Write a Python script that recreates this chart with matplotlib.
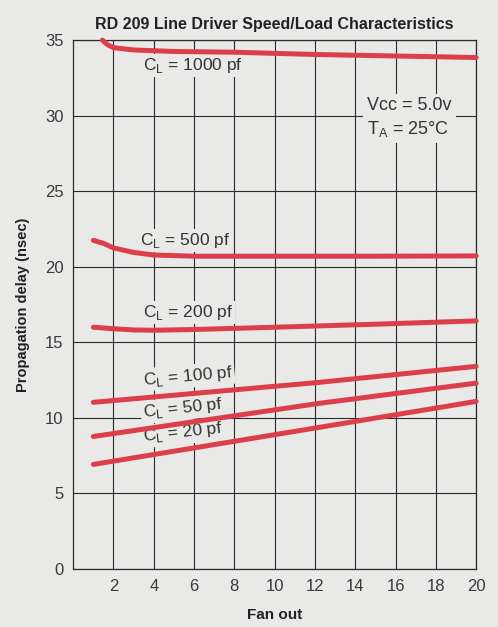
import matplotlib

matplotlib.use("Agg")
import matplotlib.pyplot as plt

# fan out values and propagation delay (nsec)
fan_1000 = [1.45, 1.7, 2.0, 3.0, 5.0, 8.0, 12.0, 16.0, 20.0]
delay_1000 = [35.0, 34.7, 34.5, 34.35, 34.25, 34.2, 34.05, 33.95, 33.85]

fan_500 = [1.0, 1.5, 2.0, 3.0, 4.0, 6.0, 10.0, 15.0, 20.0]
delay_500 = [21.75, 21.55, 21.25, 20.95, 20.78, 20.7, 20.7, 20.7, 20.72]

fan_200 = [1.0, 2.0, 3.0, 4.0, 6.0, 10.0, 15.0, 20.0]
delay_200 = [16.0, 15.9, 15.82, 15.8, 15.85, 16.0, 16.2, 16.42]

fan_100 = [1.0, 12.2, 20.0]
delay_100 = [11.03, 12.35, 13.41]

fan_50 = [1.0, 12.2, 20.0]
delay_50 = [8.77, 10.96, 12.3]

fan_20 = [1.0, 12.2, 20.0]
delay_20 = [6.92, 9.37, 11.09]

curves = [
    (fan_1000, delay_1000),
    (fan_500, delay_500),
    (fan_200, delay_200),
    (fan_100, delay_100),
    (fan_50, delay_50),
    (fan_20, delay_20),
]

# label text, x, y, rotation
labels = [
    ("1000", 3.45, 33.3, 0),
    ("500", 3.3, 21.75, 0),
    ("200", 3.45, 17.0, 0),
    ("100", 3.45, 12.5, 5),
    ("50", 3.45, 10.35, 6),
    ("20", 3.45, 8.75, 6),
]

x_ticks = [2, 4, 6, 8, 10, 12, 14, 16, 18, 20]
y_ticks = [0, 5, 10, 15, 20, 25, 30, 35]

paper = "#e9e9e7"
red = "#dd3f4a"
ink = "#2b2b2b"

plt.rcParams["font.family"] = ["Liberation Sans", "DejaVu Sans"]

fig = plt.figure(figsize=(4.98, 6.27), dpi=100, facecolor=paper)
ax = fig.add_axes([0.147, 0.0925, 0.809, 0.8435])
ax.set_facecolor(paper)

ax.set_xlim(0, 20)
ax.set_ylim(0, 35)
ax.set_xticks(x_ticks)
ax.set_yticks(y_ticks)
ax.tick_params(length=0, labelsize=12, labelcolor="#3a3a3a", pad=7)
ax.grid(True, color=ink, linewidth=0.8)
ax.set_axisbelow(True)
for spine in ax.spines.values():
    spine.set_color(ink)
    spine.set_linewidth(0.9)

# curves sit above the label boxes so the boxes only break the grid
for xs, ys in curves:
    ax.plot(xs, ys, color=red, linewidth=3.6, solid_capstyle="round", zorder=5, clip_on=False)

box = dict(facecolor=paper, edgecolor="none", pad=1.5)
for cap, lx, ly, rot in labels:
    ax.text(lx, ly, r"C$_\mathregular{L}$ = " + cap + " pf", fontsize=12.5, color="#333333",
            ha="left", va="center", rotation=rot, rotation_mode="anchor", bbox=box, zorder=4)

ax.text(14.6, 29.85, "Vcc = 5.0v\n" + r"T$_\mathregular{A}$ = 25°C", fontsize=13, color="#333333",
        ha="left", va="center", linespacing=1.35, bbox=dict(facecolor=paper, edgecolor="none", pad=3), zorder=4)

ax.set_xlabel("Fan out", fontsize=11, fontweight="bold", color="#222222", labelpad=10)
ax.set_ylabel("Propagation delay (nsec)", fontsize=10.5, fontweight="bold", color="#222222", labelpad=11)
ax.set_title("RD 209 Line Driver Speed/Load Characteristics", fontsize=11.5, fontweight="bold",
             color="#222222", pad=8)

fig.savefig("out.png", dpi=100, facecolor=paper)
